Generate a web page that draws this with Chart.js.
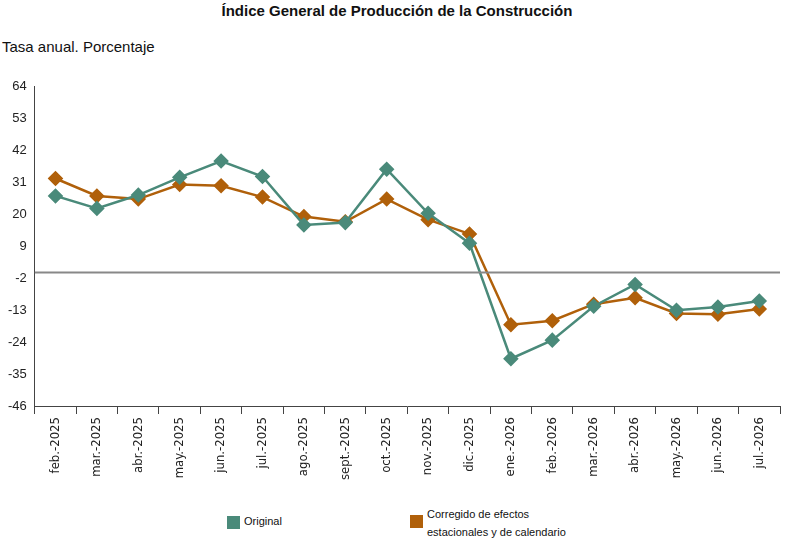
<!DOCTYPE html>
<html><head><meta charset="utf-8">
<script src="https://cdn.jsdelivr.net/npm/chart.js"></script>
<style>
body{margin:0;width:794px;height:541px;background:#fff;font-family:Arial,"Liberation Sans",sans-serif;position:relative;overflow:hidden}
#t{position:absolute;top:2px;left:0;width:794px;text-align:center;font-weight:bold;font-size:15px;color:#111}
#s{position:absolute;top:38px;left:2px;font-size:15px;color:#111}
#c{position:absolute;top:71px;left:0;width:794px;height:412px}
.lg{position:absolute;font-size:11px;color:#111;line-height:18px;white-space:nowrap}
.sq{display:inline-block;width:13px;height:13px;vertical-align:middle;margin-right:4px}
</style></head><body>
<div id="t">Índice General de Producción de la Construcción</div>
<div id="s">Tasa anual. Porcentaje</div>
<div id="c"><canvas id="cv"></canvas></div>
<div class="lg" style="left:227px;top:512px"><span class="sq" style="background:#4a8a7a"></span>Original</div>
<div class="lg" style="left:410px;top:505px;width:200px"><span class="sq" style="background:#b0600a;float:left;margin-top:10px"></span>Corregido de efectos<br>estacionales y de calendario</div>
<script>
const categories=["feb.-2025","mar.-2025","abr.-2025","may.-2025","jun.-2025","jul.-2025","ago.-2025","sept.-2025","oct.-2025","nov.-2025","dic.-2025","ene.-2026","feb.-2026","mar.-2026","abr.-2026","may.-2026","jun.-2026","jul.-2026"];
const original=[26.4,22.1,26.7,32.8,38.4,33.1,16.4,17.2,35.6,20.4,10.1,-29.7,-23.3,-11.6,-4.1,-13,-11.9,-9.8];
const corregido=[32.4,26.4,25.3,30.3,29.9,26,19.3,17.5,25.3,18.2,13.3,-18,-16.6,-10.9,-8.7,-14.1,-14.4,-12.6];
const yTicks=[64,53,42,31,20,9,-2,-13,-24,-35,-46];
const zeroLine={id:'z',afterDatasetsDraw(ch){const y=ch.scales.y.getPixelForValue(0),a=ch.chartArea,c=ch.ctx;c.save();c.strokeStyle='#888';c.lineWidth=2;c.beginPath();c.moveTo(a.left,y);c.lineTo(a.right,y);c.stroke();c.restore();}};
new Chart(document.getElementById('cv'),{type:'line',
data:{labels:categories,datasets:[
{data:original,borderColor:'#4a8a7a',backgroundColor:'#4a8a7a',pointStyle:'rectRot',pointRadius:6,borderWidth:2.5,tension:0},
{data:corregido,borderColor:'#b0600a',backgroundColor:'#b0600a',pointStyle:'rectRot',pointRadius:6,borderWidth:2.5,tension:0}]},
options:{responsive:true,maintainAspectRatio:false,animation:false,
layout:{padding:{top:10,right:14,left:0,bottom:0}},
plugins:{legend:{display:false},tooltip:{enabled:false}},
scales:{
x:{offset:true,grid:{offset:true,drawOnChartArea:false,tickLength:8,color:'#444'},border:{color:'#444'},
ticks:{minRotation:90,maxRotation:90,color:'#222',font:{size:13,family:'"DejaVu Sans Condensed","DejaVu Sans",sans-serif'}}},
y:{min:-46,max:64,afterBuildTicks(s){s.ticks=yTicks.map(v=>({value:v}));},
grid:{drawOnChartArea:false,drawTicks:false},border:{color:'#444'},
ticks:{color:'#222',padding:8,font:{size:13,family:'Arial'}}}}},
plugins:[zeroLine]});
</script></body></html>
